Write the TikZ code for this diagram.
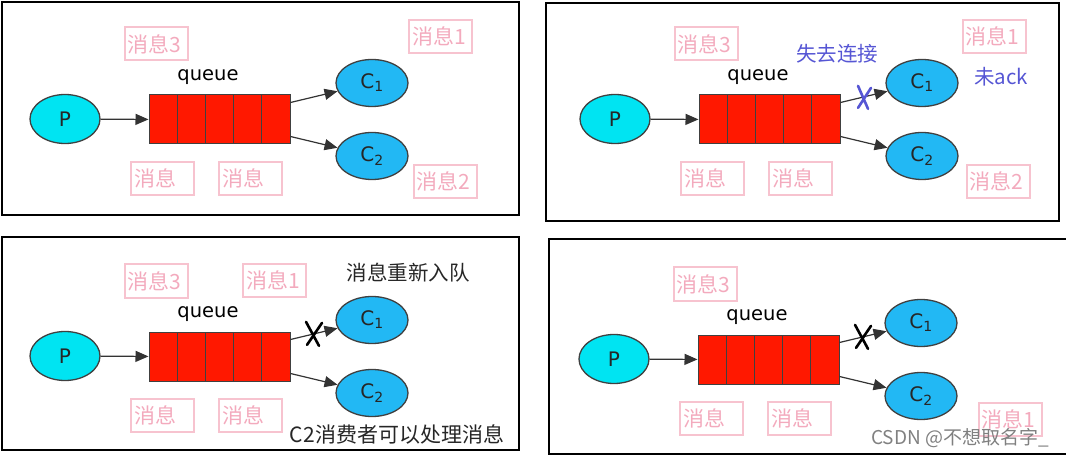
\documentclass[tikz,border=0pt]{standalone}
\usepackage{xcolor}
\usepackage{fontspec}
\setmainfont{DejaVu Sans}
\newfontfamily\cjk{Noto Sans CJK SC}
\usepackage{tikz}
\usetikzlibrary{shapes,arrows.meta,positioning,calc}

\definecolor{pcyan}{HTML}{00E4F2}
\definecolor{cblue}{HTML}{22B8F4}
\definecolor{qred}{HTML}{FF1800}
\definecolor{mpink}{HTML}{F7C3CF}
\definecolor{mtext}{HTML}{F3AABD}
\definecolor{lblue}{HTML}{5656D4}

\begin{document}
\begin{tikzpicture}[
			x = 1pt, y = -1pt,
			prod/.style = {ellipse, draw=black!75, line width=1.3pt, fill=pcyan, minimum width=70pt, minimum height=49pt, inner sep=0pt, text=black!85, font=\fontsize{20}{20}\selectfont},
			cons/.style = {prod, fill=cblue, minimum width=72pt, minimum height=47pt},
			cell/.style = {draw=black!75, fill=qred, minimum width=28.2pt, minimum height=49pt, inner sep=0pt, line width=1pt},
			msg/.style = {draw=mpink, line width=2pt, text=mtext, text width=57pt, inner xsep=3pt, inner ysep=0pt, minimum height=33pt, align=left, font=\cjk\fontsize{21}{21}\selectfont},
			link/.style = {-{Triangle[length=13pt,width=11pt]}, line width=1.2pt, black!80},
			note/.style = {text=black!85, font=\cjk\fontsize{20.5}{20.5}\selectfont},
			frame/.style = {draw=black, line width=2.6pt}
			]

			\useasboundingbox (0,0) rectangle (1066,457);

			\foreach \n/\dx/\dy in {1/0/0, 2/550/0, 3/0/237, 4/549/240}{
				\begin{scope}[shift={(\dx,\dy)}]
					\node[prod] (p\n) at (65,119) {P};
					\foreach \k in {1,...,5}
						\node[cell] (q\n-\k) at ({149+28.2*\k-14.1},119.5) {};
					\node[font=\fontsize{19.5}{19.5}\selectfont] (lab\n) at (208,77) {queue};
					\node[cons] (ca\n) at (372,83) {C\textsubscript{1}};
					\node[cons] (cb\n) at (372,156) {C\textsubscript{2}};

					\node[msg] (top\n) at (156,44) {消息3};
					\node[msg] (low\n) at (162.5,178.5) {消息};
					\node[msg] (mid\n) at (250.5,178.5) {消息};

					\draw[link] (p\n) -- (q\n-1);
					\draw[link] ([yshift=-8pt]q\n-5.north east) -- coordinate[pos=0.5] (x\n) (ca\n);
					\draw[link] ([yshift=8pt]q\n-5.south east) -- (cb\n);
				\end{scope}
			}

			\draw[frame] (2,2) rectangle (519,215);
			\draw[frame] (546,3) rectangle (1059,221);
			\draw[frame] (2,237) rectangle (519,450);
			\draw[frame] (549,239) rectangle (1072,454);

			\node[msg] (one1) at (440.5,36.5) {消息1};
			\node[msg] (two1) at (445,181.5) {消息2};

			\node[msg] (one2) at (994,36.5) {消息1};
			\node[msg] (two2) at (998,181.5) {消息2};
			\node[note, text=lblue] (lost) at (837,54) {失去连接};
			\node[note, text=lblue] (noack) at (1001,77) {未ack};
			\draw[lblue, line width=2.6pt, line cap=round] (x2) ++(-6,-11) -- ++(10,23) (x2) ++(7,-9) -- ++(-13,20);

			\node[msg] (one3) at (274.5,280.5) {消息1};
			\node[note] (requeue) at (408,273) {消息重新入队};
			\node[note, font=\cjk\fontsize{21}{21}\selectfont] (c2ok) at (397,434) {C2消费者可以处理消息};
			\draw[black, line width=2.6pt, line cap=round] (x3) ++(-8,-12) -- ++(13,24) (x3) ++(8,-11) -- ++(-15,22);

			\node[msg] (one4) at (1010,419.5) {消息1};
			\draw[black, line width=2.6pt, line cap=round] (x4) ++(-8,-12) -- ++(13,24) (x4) ++(8,-11) -- ++(-15,22);
			\node[text=black!50, font=\cjk\fontsize{19}{19}\selectfont] (mark) at (960,438) {CSDN @不想取名字\_};

		\end{tikzpicture}
\end{document}
